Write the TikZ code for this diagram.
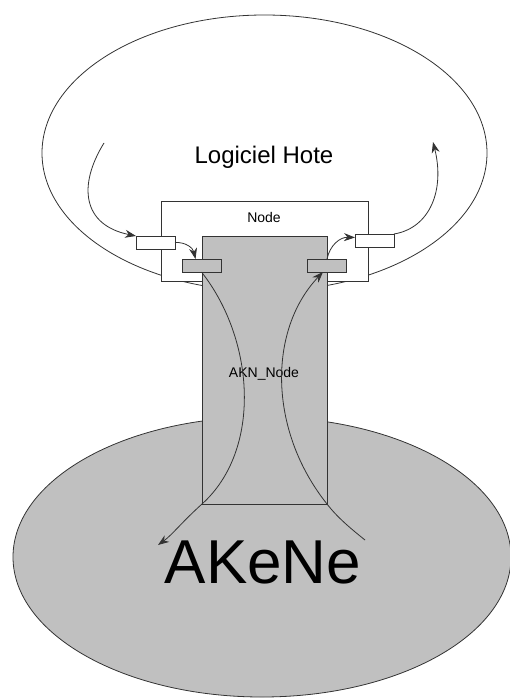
\documentclass[tikz,border=0pt]{standalone}
\usepackage{fontspec}
\setmainfont{Liberation Sans}
\usetikzlibrary{positioning, arrows.meta, shapes.geometric, calc}

\definecolor{boxgray}{HTML}{C0C0C0}
\definecolor{linegray}{HTML}{333333}

\begin{document}
\begin{tikzpicture}[
    x=1pt, y=-1pt,
    arrow/.style={-{Stealth[length=11pt, width=8pt]}, line width=0.8pt, linegray},
    blob/.style={ellipse, draw=linegray, line width=0.8pt, inner sep=0pt, outer sep=0pt},
    box/.style={rectangle, draw=linegray, line width=0.8pt, inner sep=0pt, outer sep=0pt},
    port/.style={box, minimum width=39pt, minimum height=13pt}
]
    \useasboundingbox (0, 0) rectangle (510, 700);

    % Host software and AKeNe network
    \node[blob, fill=white, minimum width=445pt, minimum height=276pt] (host) at (264.5, 153) {};
    \node[blob, fill=boxgray, minimum width=498pt, minimum height=280pt] (akene) at (262, 557) {};

    % Node boxes
    \node[box, fill=white, minimum width=207pt, minimum height=80pt] (node) at (264.5, 241) {};
    \node[box, fill=boxgray, minimum width=125pt, minimum height=268pt] (akn) at (264.5, 370) {};

    % Ports
    \node[port, fill=white] (pinL) at (155.5, 242.5) {};
    \node[port, fill=white] (pinR) at (374.5, 240.5) {};
    \node[port, fill=boxgray] (pgL) at (201.5, 265.5) {};
    \node[port, fill=boxgray] (pgR) at (327, 265.5) {};

    % Labels
    \node[anchor=base, font=\fontsize{24}{28}\selectfont] (hostlbl) at (264, 164) {Logiciel Hote};
    \node[anchor=base, font=\fontsize{14}{16}\selectfont] (nodelbl) at (264, 223) {Node};
    \node[anchor=base, font=\fontsize{14}{16}\selectfont] (aknlbl) at (264, 377) {AKN\_Node};
    \node[anchor=base, font=\fontsize{62}{70}\selectfont] (akenelbl) at (263, 583) {AKeNe};

    % Free ends
    \coordinate (hostin) at (104, 143);
    \coordinate (hostout) at (433, 142);
    \coordinate (netout) at (158, 545);
    \coordinate (netin) at (365, 540);

    % Flow in
    \draw[arrow] (hostin) .. controls (78, 185) and (82, 225) .. (pinL.north west);
    \draw[arrow] (pinL.east) .. controls (186, 242) and (193, 248) .. ($(pgL.north)+(-6, 0)$);
    \draw[arrow] (pgL.south) .. controls (255, 340) and (262, 450) .. (akn.south west)
        .. controls (182, 522) and (172, 535) .. (netout);

    % Flow out
    \draw[arrow] (netin) .. controls (350, 528) and (337, 517) .. (akn.south east)
        .. controls (268, 430) and (268, 330) .. ($(pgR.south)+(-4, 0)$);
    \draw[arrow] (pgR.north) .. controls (330, 245) and (340, 237) .. ($(pinR.west)+(0, -3)$);
    \draw[arrow] (pinR.north east) .. controls (430, 228) and (445, 190) .. (hostout);

\end{tikzpicture}
\end{document}
